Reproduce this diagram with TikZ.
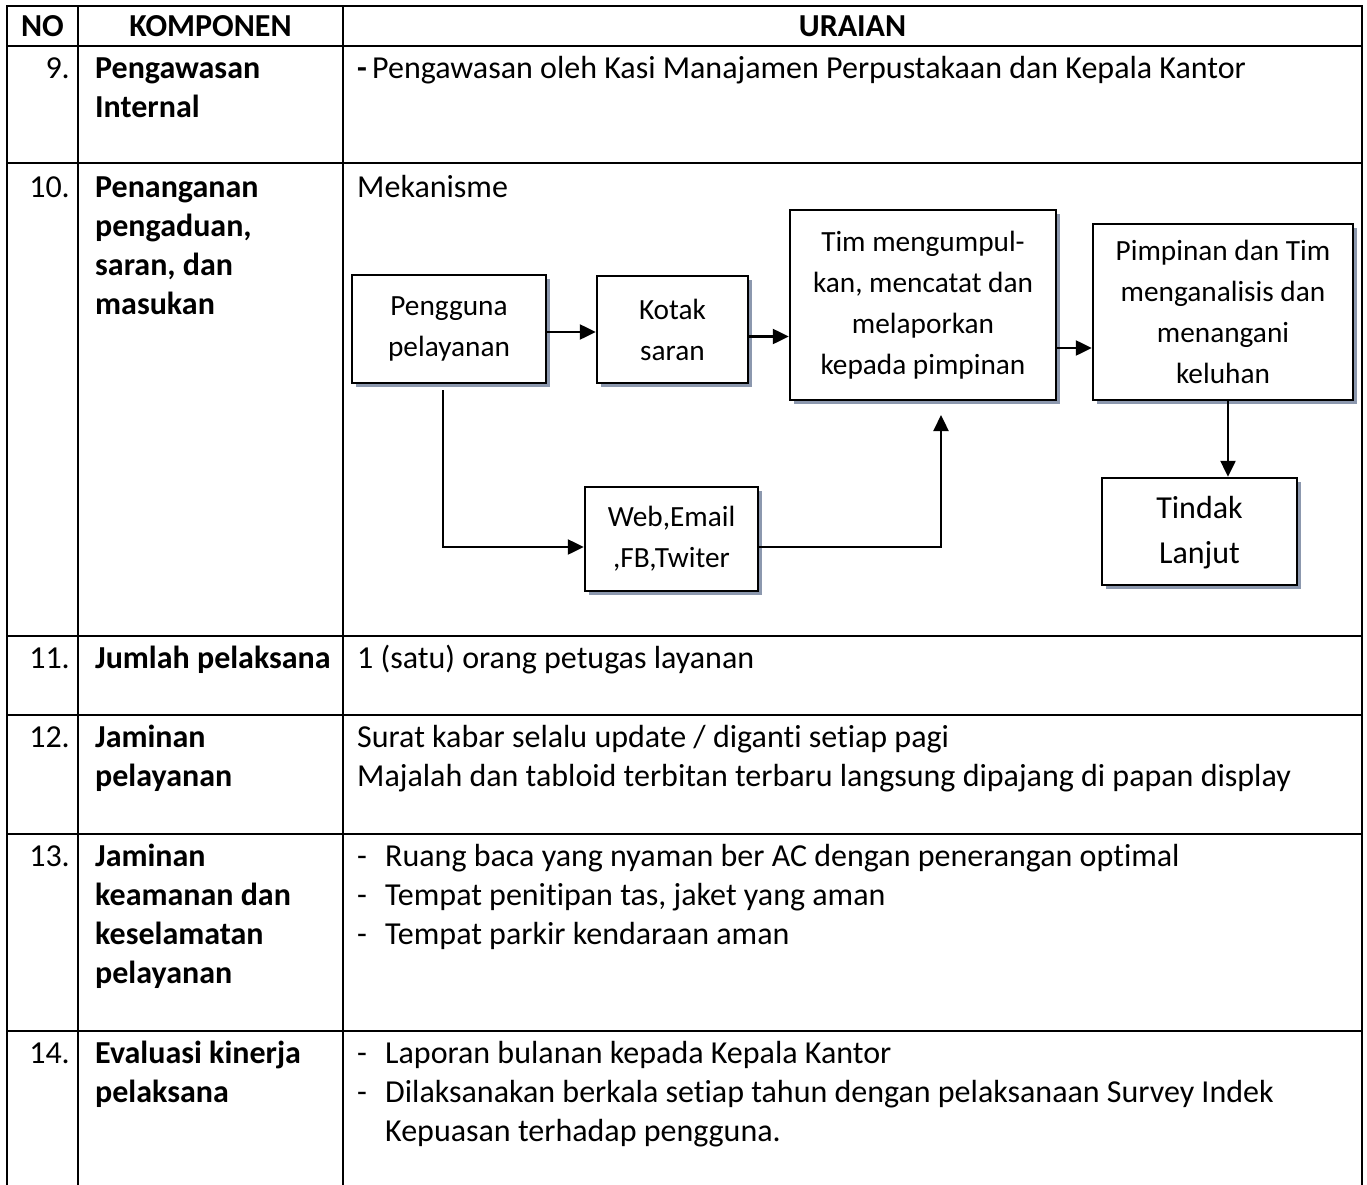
\documentclass[tikz,border=0pt]{standalone}
\usepackage{fontspec}
\setmainfont{Carlito}[Ligatures=NoCommon]
\usetikzlibrary{arrows.meta,shadows}
\definecolor{shadowcol}{HTML}{8C98AE}
\begin{document}
\begin{tikzpicture}[x=1pt,y=-1pt,
 grid/.style={line width=2.2pt, line cap=rect},
 txt/.style={anchor=base west, inner sep=0pt, font=\fontsize{32}{39}\selectfont},
 btxt/.style={anchor=base west, inner sep=0pt, font=\fontsize{32}{39}\selectfont\bfseries},
 num/.style={anchor=base east, inner sep=0pt, font=\fontsize{32}{39}\selectfont},
 hdr/.style={anchor=base, inner sep=0pt, font=\fontsize{32}{39}\selectfont\bfseries},
 flowbox/.style={draw, line width=2.4pt, fill=white, align=center, inner sep=0pt,
   font=\fontsize{29.3}{41}\selectfont,
   general shadow={fill=shadowcol, shadow xshift=4pt, shadow yshift=-4pt}},
 arr/.style={line width=2.3pt, -{Triangle[length=16pt,width=15pt]}},
]
\useasboundingbox (0,0) rectangle (1367,1185);
\fill[white] (0,0) rectangle (1367,1185);

% table grid
\foreach \xx in {7,78,343,1362} \draw[grid] (\xx,6) -- (\xx,1185);
\foreach \yy in {6,46,163,636,715,834,1031} \draw[grid] (7,\yy) -- (1362,\yy);

% header
\node[hdr] (hNo) at (42.5,37) {NO};
\node[hdr] (hKomp) at (210.5,37) {KOMPONEN};
\node[hdr] (hUr) at (852.5,37) {URAIAN};

% row 9
\node[num] (n9) at (70,79) {9.};
\node[btxt] (k9a) at (95,79) {Pengawasan};
\node[btxt] (k9b) at (95,118) {Internal};
\node[btxt] (u9d) at (357,79) {-};
\node[txt] (u9) at (372,79) {Pengawasan oleh Kasi Manajamen Perpustakaan dan Kepala Kantor};

% row 10
\node[num] (n10) at (70,197) {10.};
\node[btxt] (k10a) at (95,197) {Penanganan};
\node[btxt] (k10b) at (95,236) {pengaduan,};
\node[btxt] (k10c) at (95,275) {saran, dan};
\node[btxt] (k10d) at (95,314) {masukan};
\node[txt] (u10) at (357,197) {Mekanisme};

% flowchart
\node[flowbox, minimum width=194pt, minimum height=108pt] (pg) at (449,329) {Pengguna\\pelayanan};
\node[flowbox, minimum width=151pt, minimum height=107pt] (ks) at (672.5,329.5) {Kotak\\saran};
\node[flowbox, minimum width=266pt, minimum height=190pt] (tim) at (923,305) {Tim mengumpul-\\kan, mencatat dan\\melaporkan\\kepada pimpinan};
\node[flowbox, minimum width=260pt, minimum height=176pt] (pim) at (1223,312) {Pimpinan dan Tim\\menganalisis dan\\menangani\\keluhan};
\node[flowbox, minimum width=173pt, minimum height=104pt] (web) at (671.5,539) {Web,Email\\,FB,Twiter};
\node[flowbox, minimum width=195pt, minimum height=107pt, font=\fontsize{32}{45}\selectfont,
  text depth=4pt] (tl) at (1199.5,531.5) {Tindak\\Lanjut};

\coordinate (pgout) at (443,390);
\coordinate (timin) at (941,415);

\draw[arr] ([yshift=-3pt]pg.east) -- ([yshift=-3pt]pg.east -| ks.west);
\draw[arr] ([yshift=-7pt]ks.east) -- ([yshift=-7pt]ks.east -| tim.west);
\draw[arr] ([yshift=-43pt]tim.east) -- ([yshift=-43pt]tim.east -| pim.west);
\draw[arr] ([xshift=5pt]pim.south) -- ([xshift=5pt]pim.south |- tl.north);
\draw[arr] (pgout) |- ([yshift=-8pt]web.west);
\draw[arr] ([yshift=-8pt]web.east) -| (timin);

% row 11
\node[num] (n11) at (70,668) {11.};
\node[btxt] (k11) at (95,668) {Jumlah pelaksana};
\node[txt] (u11) at (357,668) {1 (satu) orang petugas layanan};

% row 12
\node[num] (n12) at (70,747) {12.};
\node[btxt] (k12a) at (95,747) {Jaminan};
\node[btxt] (k12b) at (95,786) {pelayanan};
\node[txt] (u12a) at (357,747) {Surat kabar selalu update / diganti setiap pagi};
\node[txt] (u12b) at (357,786) {Majalah dan tabloid terbitan terbaru langsung dipajang di papan display};

% row 13
\node[num] (n13) at (70,866) {13.};
\node[btxt] (k13a) at (95,866) {Jaminan};
\node[btxt] (k13b) at (95,905) {keamanan dan};
\node[btxt] (k13c) at (95,944) {keselamatan};
\node[btxt] (k13d) at (95,983) {pelayanan};
\node[txt] (u13ad) at (357,866) {-};
\node[txt] (u13a) at (385,866) {Ruang baca yang nyaman ber AC dengan penerangan optimal};
\node[txt] (u13bd) at (357,905) {-};
\node[txt] (u13b) at (385,905) {Tempat penitipan tas, jaket yang aman};
\node[txt] (u13cd) at (357,944) {-};
\node[txt] (u13c) at (385,944) {Tempat parkir kendaraan aman};

% row 14
\node[num] (n14) at (70,1063) {14.};
\node[btxt] (k14a) at (95,1063) {Evaluasi kinerja};
\node[btxt] (k14b) at (95,1102) {pelaksana};
\node[txt] (u14ad) at (357,1063) {-};
\node[txt] (u14a) at (385,1063) {Laporan bulanan kepada Kepala Kantor};
\node[txt] (u14bd) at (357,1102) {-};
\node[txt] (u14b) at (385,1102) {Dilaksanakan berkala setiap tahun dengan pelaksanaan Survey Indek};
\node[txt] (u14c) at (385,1141) {Kepuasan terhadap pengguna.};
\end{tikzpicture}
\end{document}
